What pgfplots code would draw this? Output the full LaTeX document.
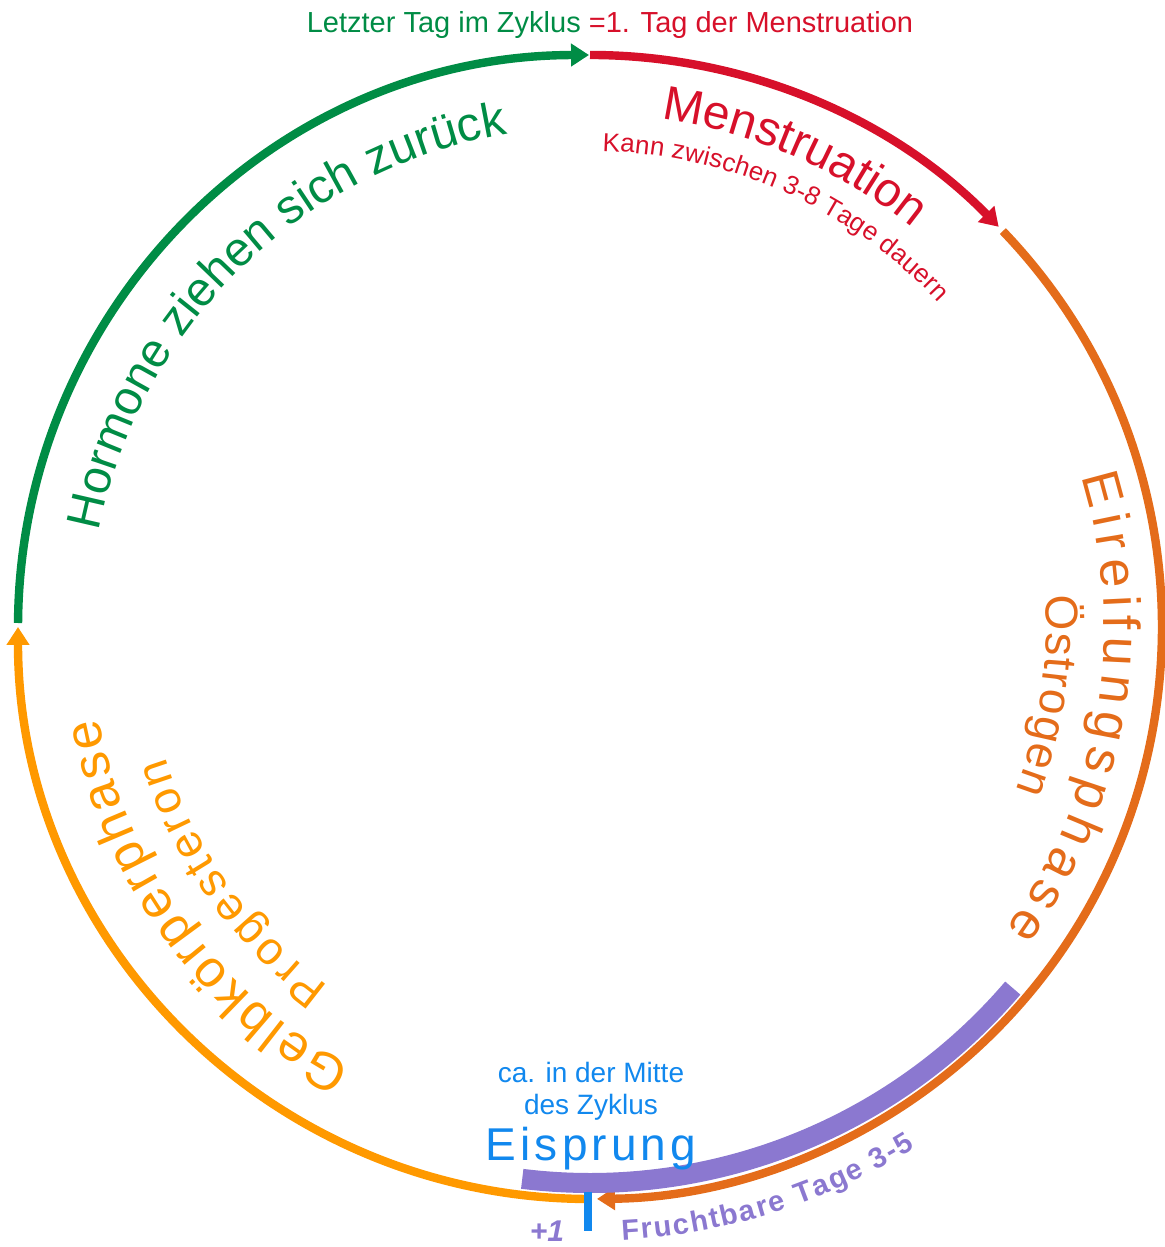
\documentclass[border=0pt]{standalone}
\usepackage{pgfplots}
\pgfplotsset{compat=1.18}
\usepackage{fontspec}
\setmainfont{Liberation Sans}
\newfontfamily\spacedfont[LetterSpace=9]{Liberation Sans}
\usetikzlibrary{arrows.meta,decorations.text}
\definecolor{cRed}{HTML}{D7102A}
\definecolor{cOrange}{HTML}{E46C1A}
\definecolor{cLight}{HTML}{FF9900}
\definecolor{cGreen}{HTML}{008C45}
\definecolor{cPurple}{HTML}{8B78D0}
\definecolor{cBlue}{HTML}{1188EE}
\tikzset{
  ring/.style={line width=4.2pt},
  tip/.style={-{Triangle[length=9pt,width=11pt]}},
}
\begin{document}
\begin{tikzpicture}
\begin{axis}[x=0.5pt,y=0.5pt,xmin=0,xmax=1164,ymin=0,ymax=1247,
  hide axis,clip=false,scale only axis]
% ---- ring segments (angles in degrees, radius 572 px = 286pt)
\draw[cRed,ring,tip]    ([shift={(90:286pt)}]axis cs:590,620)   arc[start angle=90,end angle=44.4,radius=286pt];
\draw[cOrange,ring,tip] ([shift={(43.8:286pt)}]axis cs:590,620) arc[start angle=43.8,end angle=-89.3,radius=286pt];
\draw[cLight,ring,tip]  ([shift={(-90:286pt)}]axis cs:590,620)  arc[start angle=-90,end angle=-180,radius=286pt];
\draw[cGreen,ring,tip]  ([shift={(179.6:286pt)}]axis cs:590,620) arc[start angle=179.6,end angle=90.1,radius=286pt];
% ---- fertile days band
\draw[cPurple,line width=10pt] ([shift={(-97:278pt)}]axis cs:590,620) arc[start angle=-97,end angle=-40.5,radius=278pt];
% ---- ovulation tick
\addplot[cBlue,line width=4pt,no marks] coordinates {(588,55) (588,16)};
% ---- straight labels
\node[anchor=base,font=\fontsize{14.5pt}{17pt}\selectfont,inner sep=0pt] at (axis cs:610,1214)
  {\textcolor{cGreen}{Letzter Tag im Zyklus }\textcolor{cRed}{=1. Tag der Menstruation}};
\node[anchor=base,font=\fontsize{14pt}{16pt}\selectfont,text=cBlue,inner sep=0pt] at (axis cs:591,164) {ca. in der Mitte};
\node[anchor=base,font=\fontsize{14pt}{16pt}\selectfont,text=cBlue,inner sep=0pt] at (axis cs:591,132) {des Zyklus};
\node[anchor=base,font=\spacedfont\fontsize{23pt}{26pt}\selectfont,text=cBlue,inner sep=0pt] at (axis cs:591,86) {Eisprung};
\node[anchor=base,font=\bfseries\itshape\fontsize{15pt}{17pt}\selectfont,text=cPurple,inner sep=0pt] at (axis cs:547,5) {+1};
% ---- curved labels
\path[decorate,decoration={text along path,text align=fit to path,text color=cRed,
  text={|\fontsize{24pt}{28pt}\selectfont|Menstruation}}]
  ([shift={(82:256.5pt)}]axis cs:590,620) arc[start angle=82,end angle=51,radius=256.5pt];
\path[decorate,decoration={text along path,text align=fit to path,text color=cRed,
  text={|\fontsize{13pt}{15pt}\selectfont|Kann zwischen 3-8 Tage dauern}}]
  ([shift={(88.5:238pt)}]axis cs:590,620) arc[start angle=88.5,end angle=43,radius=238pt];
\path[decorate,decoration={text along path,text align=fit to path,text color=cOrange,
  text={|\fontsize{26pt}{28pt}\selectfont|Eireifungsphase}}]
  ([shift={(17:257pt)}]axis cs:590,620) arc[start angle=17,end angle=-36,radius=257pt];
\path[decorate,decoration={text along path,text align=fit to path,text color=cOrange,
  text={|\fontsize{23pt}{26pt}\selectfont|Östrogen}}]
  ([shift={(4:228pt)}]axis cs:590,620) arc[start angle=4,end angle=-21,radius=228pt];
\path[decorate,decoration={text along path,text align=fit to path,text color=cLight,
  text={|\fontsize{26pt}{28pt}\selectfont|Gelbkörperphase}}]
  ([shift={(241.5:250pt)}]axis cs:590,620) arc[start angle=241.5,end angle=190.5,radius=250pt];
\path[decorate,decoration={text along path,text align=fit to path,text color=cLight,
  text={|\fontsize{23pt}{26pt}\selectfont|Progesteron}}]
  ([shift={(234:222pt)}]axis cs:590,620) arc[start angle=234,end angle=197,radius=222pt];
\path[decorate,decoration={text along path,text align=fit to path,text color=cGreen,
  text={|\fontsize{24pt}{28pt}\selectfont|Hormone ziehen sich zurück}}]
  ([shift={(169:250pt)}]axis cs:590,620) arc[start angle=169,end angle=99.5,radius=250pt];
\path[decorate,decoration={text along path,text align=fit to path,text color=cPurple,
  text={|\bfseries\fontsize{14.5pt}{17pt}\selectfont|Fruchtbare Tage 3-5}}]
  ([shift={(-87:307pt)}]axis cs:590,620) arc[start angle=-87,end angle=-58,radius=307pt];
\end{axis}
\pgfresetboundingbox
\useasboundingbox (0,0) rectangle (582pt,623.5pt);
\end{tikzpicture}
\end{document}
